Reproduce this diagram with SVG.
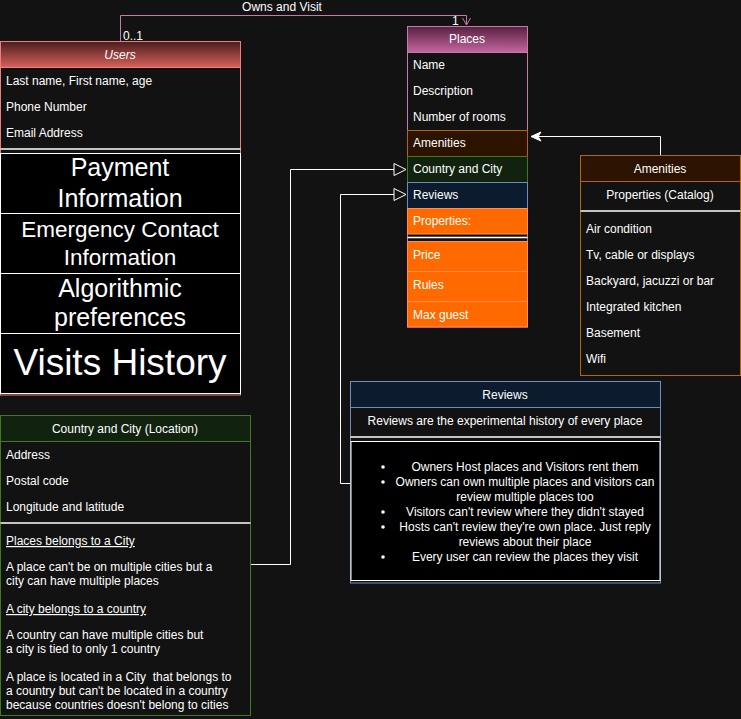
<svg xmlns="http://www.w3.org/2000/svg" width="741" height="719" viewBox="0 0 741 719">
  <defs>
    <linearGradient id="gUsers" x1="0" y1="0" x2="0" y2="1">
      <stop offset="0" stop-color="#4a1c1c"/>
      <stop offset="1" stop-color="#d8615c"/>
    </linearGradient>
    <linearGradient id="gPlaces" x1="0" y1="0" x2="0" y2="1">
      <stop offset="0" stop-color="#56213f"/>
      <stop offset="1" stop-color="#c4679f"/>
    </linearGradient>
    <marker id="hollow" viewBox="0 0 14 14" refX="13" refY="7" markerWidth="14" markerHeight="14" markerUnits="userSpaceOnUse" orient="auto">
      <path d="M1,1 L13,7 L1,13 Z" fill="#121212" stroke="#ffffff" stroke-width="1"/>
    </marker>
    <marker id="classic" viewBox="0 0 12 12" refX="11" refY="6" markerWidth="12" markerHeight="12" markerUnits="userSpaceOnUse" orient="auto">
      <path d="M1,1.5 L11,6 L1,10.5 L4,6 Z" fill="#ffffff" stroke="#ffffff" stroke-width="1"/>
    </marker>
    <marker id="openv" viewBox="0 0 10 10" refX="5" refY="9" markerWidth="10" markerHeight="10" markerUnits="userSpaceOnUse" orient="0">
      <path d="M1,2 L5,9 L9,2" fill="none" stroke="#c27bab" stroke-width="1"/>
    </marker>
  </defs>
  <style>
    text { font-family: "Liberation Sans", Arial, Helvetica, sans-serif; fill: #ffffff; }
    .t { font-size: 12px; }
    .c { text-anchor: middle; }
    .u { text-decoration: underline; }
    .blk { fill: #000000; stroke: #ffffff; stroke-width: 1; }
    .sep { stroke: #ffffff; stroke-width: 1.5; }
    .wire { fill: none; stroke: #ffffff; stroke-width: 1; }
  </style>

  <rect x="0" y="0" width="741" height="719" fill="#121212"/>

  <!-- connectors -->
  <g id="connectors">
    <path d="M120.5,41 V15.5 H466.5 V25" fill="none" stroke="#c27bab" stroke-width="1" marker-end="url(#openv)"/>
    <text class="t c" x="282" y="11">Owns and Visit</text>
    <text class="t" x="123" y="40">0..1</text>
    <text class="t" x="452" y="25">1</text>
    <path class="wire" d="M660.5,155 V136.5 H531" marker-end="url(#classic)"/>
    <path class="wire" d="M250,564.5 H290.5 V169.5 H406" marker-end="url(#hollow)"/>
    <path class="wire" d="M350,483.5 H340.5 V194.5 H406" marker-end="url(#hollow)"/>
  </g>

  <!-- Users -->
  <g id="users">
    <rect x="0.5" y="41.5" width="240" height="353.5" fill="#121212" stroke="#ea7f7b"/>
    <rect x="0.5" y="41.5" width="240" height="26" fill="url(#gUsers)" stroke="#ea7f7b"/>
    <text class="t c" x="120" y="59" font-style="italic">Users</text>
    <text class="t" x="6" y="85">Last name, First name, age</text>
    <text class="t" x="6" y="111">Phone Number</text>
    <text class="t" x="6" y="137">Email Address</text>
    <line class="sep" x1="0.5" y1="149" x2="240.5" y2="149"/>
    <rect class="blk" x="0.5" y="153.5" width="240" height="60"/>
    <text class="c" x="120" y="176" font-size="25">Payment</text>
    <text class="c" x="120" y="207" font-size="25">Information</text>
    <rect class="blk" x="0.5" y="213.5" width="240" height="60"/>
    <text class="c" x="120" y="237" font-size="22.5">Emergency Contact</text>
    <text class="c" x="120" y="265" font-size="22.5">Information</text>
    <rect class="blk" x="0.5" y="273.5" width="240" height="60"/>
    <text class="c" x="120" y="297" font-size="25">Algorithmic</text>
    <text class="c" x="120" y="326" font-size="25">preferences</text>
    <rect class="blk" x="0.5" y="333.5" width="240" height="60"/>
    <text class="c" x="120" y="375" font-size="37">Visits History</text>
  </g>

  <!-- Places -->
  <g id="places">
    <rect x="407.5" y="26.5" width="120" height="300.5" fill="#121212" stroke="#c27bab"/>
    <rect x="407.5" y="26.5" width="120" height="26" fill="url(#gPlaces)" stroke="#c27bab"/>
    <text class="t c" x="467" y="43">Places</text>
    <text class="t" x="413" y="69">Name</text>
    <text class="t" x="413" y="95">Description</text>
    <text class="t" x="413" y="121">Number of rooms</text>
    <rect x="407.5" y="130.5" width="120" height="26" fill="#2b1300" stroke="#b46504"/>
    <text class="t" x="413" y="147">Amenities</text>
    <rect x="407.5" y="156.5" width="120" height="26" fill="#11230f" stroke="#3f7a22"/>
    <text class="t" x="413" y="173">Country and City</text>
    <rect x="407.5" y="182.5" width="120" height="26" fill="#0c1b2e" stroke="#6c8ebf"/>
    <text class="t" x="413" y="199">Reviews</text>
    <rect x="407.5" y="208.5" width="120" height="25.5" fill="#ff6a00" stroke="#ff9050"/>
    <text class="t" x="413" y="225">Properties:</text>
    <line class="sep" x1="407.5" y1="237.5" x2="527.5" y2="237.5"/>
    <rect x="407.5" y="241.5" width="120" height="30" fill="#ff6a00" stroke="#ff9050"/>
    <text class="t" x="413" y="259">Price</text>
    <rect x="407.5" y="271.5" width="120" height="30" fill="#ff6a00" stroke="#ff9050"/>
    <text class="t" x="413" y="289">Rules</text>
    <rect x="407.5" y="301.5" width="120" height="25.5" fill="#ff6a00" stroke="#ff9050"/>
    <text class="t" x="413" y="319">Max guest</text>
  </g>

  <!-- Amenities catalog -->
  <g id="amenities">
    <rect x="580.5" y="155.5" width="160" height="220" fill="#121212" stroke="#b46504"/>
    <rect x="580.5" y="155.5" width="160" height="26" fill="#2b1300" stroke="#b46504"/>
    <text class="t c" x="660" y="173">Amenities</text>
    <text class="t c" x="660" y="199">Properties (Catalog)</text>
    <line class="sep" x1="580.5" y1="211" x2="740.5" y2="211"/>
    <text class="t" x="586" y="233">Air condition</text>
    <text class="t" x="586" y="259">Tv, cable or displays</text>
    <text class="t" x="586" y="285">Backyard, jacuzzi or bar</text>
    <text class="t" x="586" y="311">Integrated kitchen</text>
    <text class="t" x="586" y="337">Basement</text>
    <text class="t" x="586" y="363">Wifi</text>
  </g>

  <!-- Location -->
  <g id="location">
    <rect x="0.5" y="415.5" width="250" height="300" fill="#121212" stroke="#3f7a22"/>
    <rect x="0.5" y="415.5" width="250" height="26" fill="#11230f" stroke="#3f7a22"/>
    <text class="t c" x="125" y="433">Country and City (Location)</text>
    <text class="t" x="6" y="459">Address</text>
    <text class="t" x="6" y="485">Postal code</text>
    <text class="t" x="6" y="511">Longitude and latitude</text>
    <line class="sep" x1="0.5" y1="523" x2="250.5" y2="523"/>
    <text class="t u" x="6" y="545">Places belongs to a City</text>
    <text class="t" x="6" y="571">A place can't be on multiple cities but a</text>
    <text class="t" x="6" y="585">city can have multiple places</text>
    <text class="t u" x="6" y="613">A city belongs to a country</text>
    <text class="t" x="6" y="639">A country can have multiple cities but</text>
    <text class="t" x="6" y="653">a city is tied to only 1 country</text>
    <text class="t" x="6" y="681" xml:space="preserve">A place is located in a City  that belongs to</text>
    <text class="t" x="6" y="695">a country but can't be located in a country</text>
    <text class="t" x="6" y="709">because countries doesn't belong to cities</text>
  </g>

  <!-- Reviews -->
  <g id="reviews">
    <rect x="350.5" y="381.5" width="310" height="201.5" fill="#121212" stroke="#6c8ebf"/>
    <rect x="350.5" y="381.5" width="310" height="26" fill="#0c1b2e" stroke="#6c8ebf"/>
    <text class="t c" x="505" y="399">Reviews</text>
    <text class="t c" x="505" y="425">Reviews are the experimental history of every place</text>
    <line class="sep" x1="350.5" y1="437" x2="660.5" y2="437"/>
    <rect class="blk" x="351" y="441.5" width="309" height="139"/>
    <circle cx="383" cy="467" r="1.8" fill="#ffffff"/>
    <text class="t c" x="525" y="471">Owners Host places and Visitors rent them</text>
    <circle cx="383" cy="482" r="1.8" fill="#ffffff"/>
    <text class="t c" x="525" y="486">Owners can own multiple places and visitors can</text>
    <text class="t c" x="525" y="501">review multiple places too</text>
    <circle cx="383" cy="512" r="1.8" fill="#ffffff"/>
    <text class="t c" x="525" y="516">Visitors can't review where they didn't stayed</text>
    <circle cx="383" cy="527" r="1.8" fill="#ffffff"/>
    <text class="t c" x="525" y="531">Hosts can't review they're own place. Just reply</text>
    <text class="t c" x="525" y="546">reviews about their place</text>
    <circle cx="383" cy="557" r="1.8" fill="#ffffff"/>
    <text class="t c" x="525" y="561">Every user can review the places they visit</text>
  </g>
</svg>
